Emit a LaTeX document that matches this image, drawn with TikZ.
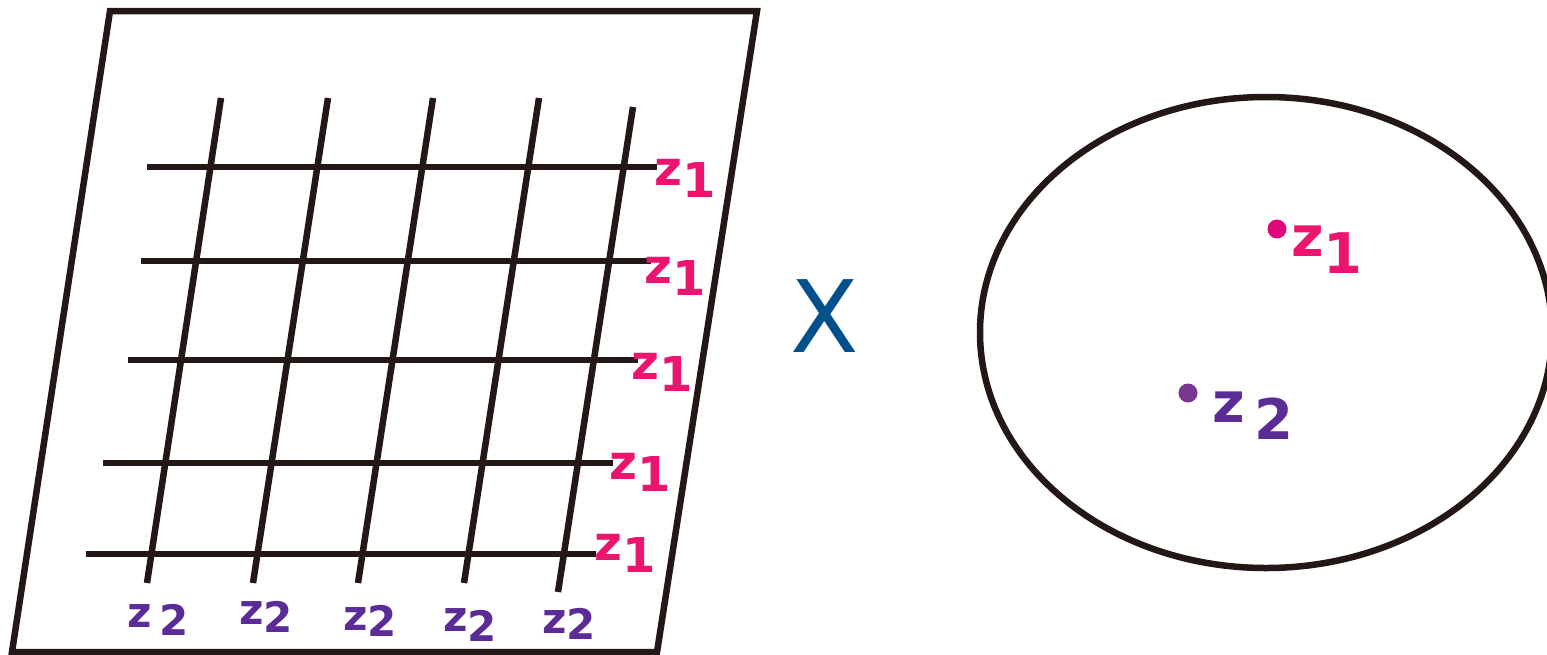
\documentclass[tikz,border=0pt]{standalone}
\usepackage{fontspec}
\setmainfont{DejaVu Sans}
\definecolor{ink}{RGB}{35,24,21}
\definecolor{zpink}{RGB}{236,20,110}
\definecolor{zpurple}{RGB}{91,44,150}
\definecolor{dotpink}{RGB}{224,6,124}
\definecolor{dotpurple}{RGB}{125,53,146}
\definecolor{xblue}{RGB}{0,80,140}
\tikzset{
  frame/.style={draw=ink, line width=6.5pt},
  gridline/.style={draw=ink, line width=6.5pt},
  zone/.style={text=zpink, font=\bfseries\fontsize{48}{48}\selectfont, inner sep=0pt},
  ztwo/.style={text=zpurple, font=\bfseries\fontsize{42}{42}\selectfont, inner sep=0pt},
  bigzone/.style={text=zpink, font=\bfseries\fontsize{56}{56}\selectfont, inner sep=0pt},
  bigztwo/.style={text=zpurple, font=\bfseries\fontsize{56}{56}\selectfont, inner sep=0pt},
  dot/.style={circle, inner sep=0pt, minimum size=19pt}
}
\begin{document}
\begin{tikzpicture}[x=1pt,y=-1pt]
\useasboundingbox (0,0) rectangle (1547,654);
\begin{scope}
\clip (0,0) rectangle (1547,654);
% parallelogram frame
\draw[frame] (110,11) -- (757,11) -- (657,652) -- (12,652) -- cycle;
% slanted lines
\draw[gridline] (221,98) -- (147,583);
\draw[gridline] (328,98) -- (253,583);
\draw[gridline] (433,98) -- (358,583);
\draw[gridline] (539,98) -- (464,583);
\draw[gridline] (633,107) -- (558,592);
% horizontal lines
\draw[gridline] (147,167) -- (657,167);
\draw[gridline] (141,261) -- (651,261);
\draw[gridline] (128,360) -- (638,360);
\draw[gridline] (103,463) -- (613,463);
\draw[gridline] (86,554) -- (596,554);
% labels z1
\node[zone] (a1) at (685,178) {z\raisebox{-0.25em}{1}};
\node[zone] (a2) at (675,276) {z\raisebox{-0.25em}{1}};
\node[zone] (a3) at (662,372) {z\raisebox{-0.25em}{1}};
\node[zone] (a4) at (640,472) {z\raisebox{-0.25em}{1}};
\node[zone] (a5) at (625,553) {z\raisebox{-0.25em}{1}};
% labels z2
\node[ztwo] (b1) at (158,620) {z\,\raisebox{-0.2em}{2}};
\node[ztwo] (b2) at (266,617) {z\raisebox{-0.2em}{2}};
\node[ztwo] (b3) at (370,621) {z\raisebox{-0.15em}{2}};
\node[ztwo] (b4) at (470,625) {z\raisebox{-0.25em}{2}};
\node[ztwo] (b5) at (569,624) {z\raisebox{-0.15em}{2}};
% cross
\node[text=xblue, font=\fontsize{100}{100}\selectfont, inner sep=0pt] (x) at (825,316) {X};
% ellipse
\draw[frame] (1266,332.5) ellipse [x radius=286, y radius=235.5];
\node[dot, fill=dotpink] (p1) at (1277,229) {};
\node[dot, fill=dotpurple] (p2) at (1188,393) {};
\node[bigzone] (c1) at (1327,250) {z\raisebox{-0.3em}{1}};
\node[bigztwo] (c2) at (1253,416) {z\,\raisebox{-0.3em}{2}};
\end{scope}
\end{tikzpicture}
\end{document}
